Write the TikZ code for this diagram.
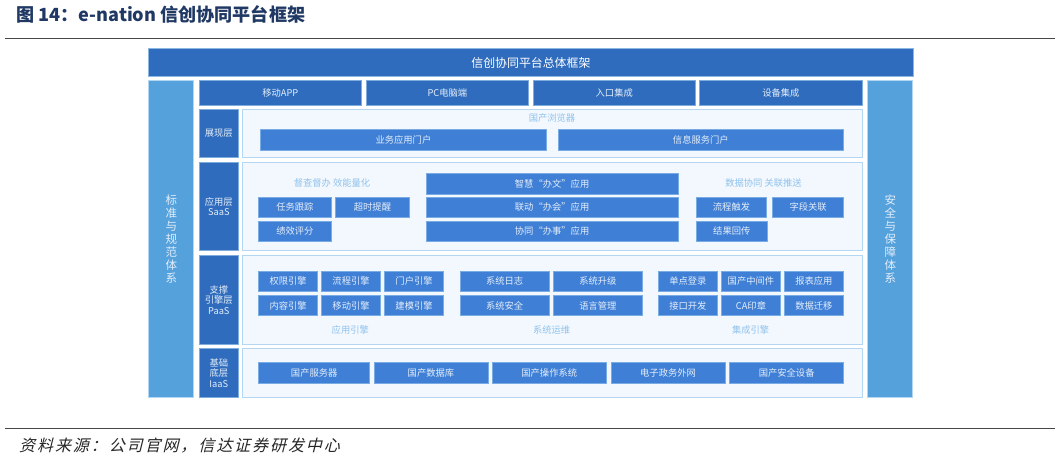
\documentclass[tikz,border=0pt]{standalone}
\usepackage{fontspec}
\setmainfont{Noto Sans CJK SC}
\newfontfamily\capfont[FakeSlant=0.25,LetterSpace=12]{Noto Sans CJK SC}
\definecolor{navy}{HTML}{1F3864}
\definecolor{deepblue}{HTML}{2F6CBD}
\definecolor{pillarblue}{HTML}{55A1DC}
\definecolor{innerblue}{HTML}{3F7FD6}
\definecolor{panelfill}{HTML}{F3F8FE}
\definecolor{panelline}{HTML}{B3D7F2}
\definecolor{softtext}{HTML}{8FC2EC}
\definecolor{boxtext}{HTML}{E4EEFA}
\tikzset{
  x=1pt,y=-1pt,
  base/.style={inner sep=0pt,outer sep=0pt,line width=0.8pt,align=center},
  banner/.style={base,fill=deepblue,draw=panelline!70!deepblue,text=white,font=\fontsize{11.9}{13}\selectfont},
  pillar/.style={base,fill=pillarblue,draw=panelline,text=boxtext,font=\fontsize{11.5}{13}\selectfont},
  deepbox/.style={base,fill=deepblue,draw=panelline!60!deepblue,text=boxtext,font=\fontsize{9.3}{10.4}\selectfont},
  panel/.style={base,fill=panelfill,draw=panelline},
  inner/.style={base,fill=innerblue,draw=panelline!50!innerblue,text=boxtext,font=\fontsize{9.3}{10.4}\selectfont},
  soft/.style={inner sep=0pt,text=softtext,font=\fontsize{9.3}{10.4}\selectfont},
  rulefull/.style={line width=1.1pt,draw=black!72},
}
\newcommand{\bx}[7]{%
  \pgfmathsetmacro{\bxw}{#5-#3}\pgfmathsetmacro{\bxh}{#6-#4}%
  \pgfmathsetmacro{\bxx}{(#3+#5)/2}\pgfmathsetmacro{\bxy}{(#4+#6)/2}%
  \node[#1,minimum width=\bxw pt-0.8pt,minimum height=\bxh pt-0.8pt] (#2) at (\bxx,\bxy) {#7};}
\begin{document}
\begin{tikzpicture}
\useasboundingbox (0,0) rectangle (1062,459);
\fill[white] (0,0) rectangle (1062,459);
% heading and rules
\node[anchor=west,inner sep=0pt,text=navy,font=\fontsize{18.1}{20}\selectfont\bfseries] (heading) at (16,14.5) {图 14：e-nation 信创协同平台框架};
\coordinate (tl) at (5,38.3); \coordinate (tr) at (1055,38.3);
\coordinate (bl) at (5,428.8); \coordinate (br) at (1055,428.8);
\draw[rulefull] (tl) -- (tr);
\draw[rulefull] (bl) -- (br);
\node[anchor=west,inner sep=0pt,text=black!85,font=\fontsize{16}{18}\capfont] (source) at (19,446) {资料来源：公司官网，信达证券研发中心};
% frame
\bx{banner}{top}{148.3}{48}{913.5}{77}{信创协同平台总体框架}
\bx{pillar}{left}{148.3}{80}{194.2}{397.3}{标\\准\\与\\规\\范\\体\\系}
\bx{pillar}{right}{867.3}{80}{913.2}{397.3}{安\\全\\与\\保\\障\\体\\系}
\bx{deepbox}{t1}{198.6}{80}{362}{105.3}{移动APP}
\bx{deepbox}{t2}{365.8}{80}{529}{105.3}{PC电脑端}
\bx{deepbox}{t3}{532.7}{80}{695.8}{105.3}{入口集成}
\bx{deepbox}{t4}{699.2}{80}{862.6}{105.3}{设备集成}
% presentation layer
\bx{deepbox}{l1}{198.6}{108.7}{239}{157.7}{展现层}
\bx{panel}{p1}{242.3}{108.7}{862.6}{157.7}{}
\node[soft] (browser) at (552,118.3) {国产浏览器};
\bx{inner}{a1}{260.2}{129.3}{546.6}{150.3}{业务应用门户}
\bx{inner}{a2}{557.7}{129.3}{844}{150.3}{信息服务门户}
% application layer
\bx{deepbox}{l2}{198.6}{162}{239}{250.7}{应用层\\SaaS}
\bx{panel}{p2}{242.3}{162}{862.6}{250.7}{}
\node[soft] (supervise) at (332,183) {督查督办 效能量化};
\node[soft] (datasync) at (763.5,183) {数据协同 关联推送};
\bx{inner}{b1}{258.2}{196.7}{331.6}{217.7}{任务跟踪}
\bx{inner}{b2}{335.4}{196.7}{409.5}{217.7}{超时提醒}
\bx{inner}{b3}{258.2}{220.7}{331.6}{241.7}{绩效评分}
\bx{inner}{c1}{425.7}{173.3}{678.5}{194.3}{智慧“办文”应用}
\bx{inner}{c2}{425.7}{196.7}{678.5}{217.7}{联动“办会”应用}
\bx{inner}{c3}{425.7}{220.7}{678.5}{241.7}{协同“办事”应用}
\bx{inner}{d1}{695.8}{196.7}{767.2}{217.7}{流程触发}
\bx{inner}{d2}{772.3}{196.7}{844}{217.7}{字段关联}
\bx{inner}{d3}{696.1}{220.7}{767.5}{241.7}{结果回传}
% support layer
\bx{deepbox}{l3}{198.6}{255}{239}{344.7}{支撑\\引擎层\\PaaS}
\bx{panel}{p3}{242.3}{255}{862.6}{344.7}{}
\bx{inner}{e1}{258.2}{270.7}{318.1}{291.7}{权限引擎}
\bx{inner}{e2}{321.1}{270.7}{381}{291.7}{流程引擎}
\bx{inner}{e3}{384.1}{270.7}{444}{291.7}{门户引擎}
\bx{inner}{e4}{258.2}{295}{318.1}{316}{内容引擎}
\bx{inner}{e5}{321.1}{295}{381}{316}{移动引擎}
\bx{inner}{e6}{384.1}{295}{444}{316}{建模引擎}
\bx{inner}{f1}{459.6}{270.7}{549.6}{291.7}{系统日志}
\bx{inner}{f2}{553}{270.7}{642.7}{291.7}{系统升级}
\bx{inner}{f3}{459.6}{295}{549.6}{316}{系统安全}
\bx{inner}{f4}{553}{295}{642.7}{316}{语言管理}
\bx{inner}{g1}{657.9}{270.7}{717.8}{291.7}{单点登录}
\bx{inner}{g2}{721.2}{270.7}{780.7}{291.7}{国产中间件}
\bx{inner}{g3}{783.8}{270.7}{844}{291.7}{报表应用}
\bx{inner}{g4}{657.9}{295}{717.8}{316}{接口开发}
\bx{inner}{g5}{721.2}{295}{780.7}{316}{CA印章}
\bx{inner}{g6}{783.8}{295}{844}{316}{数据迁移}
\node[soft] (appengine) at (350.3,329.7) {应用引擎};
\node[soft] (sysops) at (551.6,329.7) {系统运维};
\node[soft] (integ) at (750.6,329.7) {集成引擎};
% base layer
\bx{deepbox}{l4}{198.6}{348.3}{239}{397.3}{基础\\底层\\IaaS}
\bx{panel}{p4}{242.3}{348.3}{862.6}{397.3}{}
\bx{inner}{h1}{258.2}{362.3}{370.2}{383.3}{国产服务器}
\bx{inner}{h2}{373.6}{362.3}{488.3}{383.3}{国产数据库}
\bx{inner}{h3}{491.7}{362.3}{606.8}{383.3}{国产操作系统}
\bx{inner}{h4}{610.5}{362.3}{725.6}{383.3}{电子政务外网}
\bx{inner}{h5}{729.3}{362.3}{844}{383.3}{国产安全设备}
\end{tikzpicture}
\end{document}
